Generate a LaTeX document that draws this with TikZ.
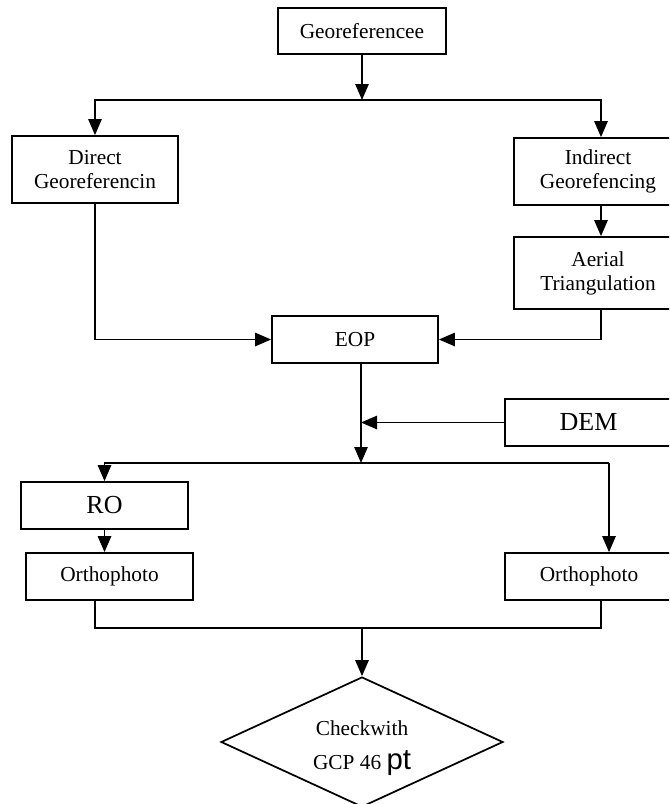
\documentclass[tikz,border=0pt]{standalone}
\usepackage{fontspec}
\setmainfont{Liberation Serif}
\setsansfont{Liberation Sans}
\usetikzlibrary{arrows.meta,shapes.geometric}
\begin{document}
\begin{tikzpicture}[x=0.75pt,y=-0.75pt,
  box/.style={draw,line width=1.3pt,inner sep=0pt,align=center,
    font=\fontsize{16}{18}\selectfont},
  bigbox/.style={box,font=\fontsize{19.5}{22}\selectfont},
  arr/.style={line width=1.3pt,-{Triangle[length=12pt,width=10pt]}},
  ln/.style={line width=1.3pt}]
\clip (0,0) rectangle (669,804);
\fill[white] (0,0) rectangle (669,804);
\node[box,minimum width=168*0.75pt,minimum height=46*0.75pt] (geo) at (362,31) {Georeferencee};
\node[box,minimum width=166*0.75pt,minimum height=67*0.75pt] (direct) at (95,169.5) {Direct\\Georeferencin};
\node[box,minimum width=168*0.75pt,minimum height=67*0.75pt] (indirect) at (598,171.5) {Indirect\\Georefencing};
\node[box,minimum width=168*0.75pt,minimum height=72*0.75pt] (aerial) at (598,273) {Aerial\\Triangulation};
\node[box,minimum width=166*0.75pt,minimum height=47*0.75pt] (eop) at (355,339.5) {EOP};
\node[bigbox,minimum width=167*0.75pt,minimum height=47*0.75pt] (dem) at (588.5,422.5) {DEM};
\node[bigbox,minimum width=167*0.75pt,minimum height=47*0.75pt] (ro) at (104.5,505.5) {RO};
\node[box,minimum width=167*0.75pt,minimum height=47*0.75pt] (orthoL) at (109.5,576.5) {Orthophoto};
\node[box,minimum width=168*0.75pt,minimum height=47*0.75pt] (orthoR) at (589,576.5) {Orthophoto};
\node[box,diamond,minimum width=282*0.75pt,minimum height=130*0.75pt] (dia) at (362,742)
  {\smash{\raisebox{-8.5pt}{\begin{tabular}{@{}c@{}}Checkwith\\[6pt]GCP 46 {\sffamily\fontsize{22}{25}\selectfont pt}\end{tabular}}}};
% connectors
\coordinate (s1) at (362,100);
\draw[arr] (geo.south) -- (s1);
\draw[arr] (s1) -| (direct.north);
\draw[arr] (s1) -| ([xshift=2.25pt]indirect.north);
\draw[arr] ([xshift=2.25pt]indirect.south) -- ([xshift=2.25pt]aerial.north);
\draw[arr] (direct.south) |- (eop.west);
\draw[arr] ([xshift=2.25pt]aerial.south) |- (eop.east);
\coordinate (j1) at (361,463);
\draw[arr] (eop.south -| j1) -- (j1);
\draw[arr] (dem.west) -- (dem.west -| j1);
\coordinate (r1) at (609,463);
\draw[ln] (j1) -- (r1);
\draw[arr] (j1) -| (ro.north);
\draw[arr] (r1) -- (r1 |- orthoR.north);
\draw[arr] (ro.south) -- (ro.south |- orthoL.north);
\coordinate (bl) at (95,628);
\coordinate (br) at (601,628);
\coordinate (j2) at (362,628);
\draw[ln] (bl |- orthoL.south) -- (bl) -- (br) -- (br |- orthoR.south);
\draw[arr] (j2) -- (dia.north);
\end{tikzpicture}
\end{document}
